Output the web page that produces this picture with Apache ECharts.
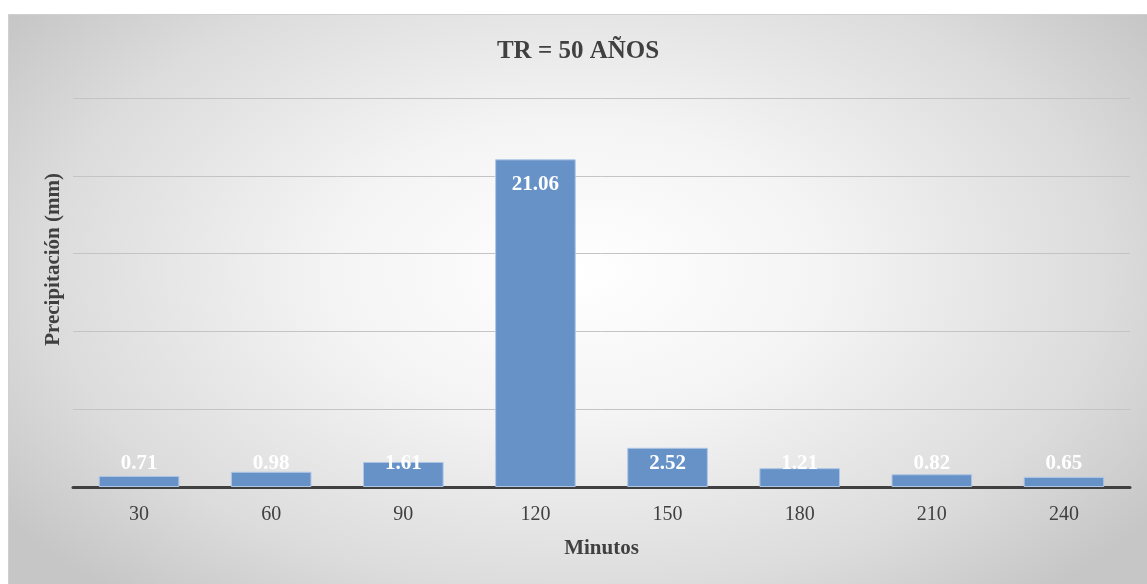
<!DOCTYPE html>
<html>
<head>
<meta charset="utf-8">
<script src="https://cdn.jsdelivr.net/npm/echarts@6/dist/echarts.min.js"></script>
<style>
  html, body { margin: 0; padding: 0; background: #ffffff; }
  #frame {
    position: absolute; left: 8px; top: 14px; width: 1139px; height: 570px;
    box-sizing: border-box; border: 1px solid #d0d0d0; border-right: none; border-bottom: none;
    background: radial-gradient(ellipse 62% 75% at 50% 45%, #ffffff 0%, #f4f4f4 35%, #dcdcdc 75%, #c6c6c6 100%);
  }
  #chart { width: 100%; height: 100%; }
</style>
</head>
<body>
<div id="frame"><div id="chart"></div></div>
<script>
  const titleText = 'TR = 50 AÑOS';
  const categories = ['30', '60', '90', '120', '150', '180', '210', '240'];
  const precipitation = [0.71, 0.98, 1.61, 21.06, 2.52, 1.21, 0.82, 0.65];
  const xAxisName = 'Minutos';
  const yAxisName = 'Precipitación (mm)';

  const serif = '"Liberation Serif", "Times New Roman", serif';
  const textColor = '#404040';

  // tall bars carry their value inside the top end, short ones just above the base
  const barData = precipitation.map(v => ({
    value: v,
    label: v > 10
      ? { position: 'insideTop', distance: 15 }
      : { position: 'insideBottom', distance: 13 }
  }));

  const chart = echarts.init(document.getElementById('chart'), null, { renderer: 'canvas' });
  chart.setOption({
    backgroundColor: 'transparent',
    animation: false,
    title: {
      text: titleText,
      left: 'center',
      top: 19,
      padding: [5, 5, 5, 12],
      textStyle: { fontFamily: serif, fontSize: 25, fontWeight: 'bold', color: textColor }
    },
    graphic: [{
      type: 'text',
      left: 34,
      top: 158,
      rotation: Math.PI / 2,
      style: {
        text: yAxisName,
        font: 'bold 21px ' + serif,
        fill: textColor
      }
    }],
    grid: { left: 64, right: 17, top: 83, bottom: 97 },
    xAxis: {
      type: 'category',
      data: categories,
      name: xAxisName,
      nameLocation: 'middle',
      nameGap: 51,
      nameTextStyle: { fontFamily: serif, fontSize: 21, fontWeight: 'bold', color: textColor },
      axisLine: { lineStyle: { color: textColor, width: 3 } },
      axisTick: { show: false },
      axisLabel: { fontFamily: serif, fontSize: 20, color: textColor, margin: 18 }
    },
    yAxis: {
      type: 'value',
      min: 0,
      max: 25,
      interval: 5,
      axisLine: { show: false },
      axisTick: { show: false },
      axisLabel: { show: false },
      splitLine: { lineStyle: { color: '#c4c4c4', width: 1 } }
    },
    series: [{
      type: 'bar',
      data: barData,
      barWidth: '61%',
      itemStyle: { color: '#6792c8', borderColor: '#aec6e6', borderWidth: 1 },
      label: {
        show: true,
        formatter: p => p.value.toFixed(2),
        fontFamily: serif,
        fontSize: 21,
        fontWeight: 'bold',
        color: '#ffffff'
      }
    }]
  });
</script>
</body>
</html>
